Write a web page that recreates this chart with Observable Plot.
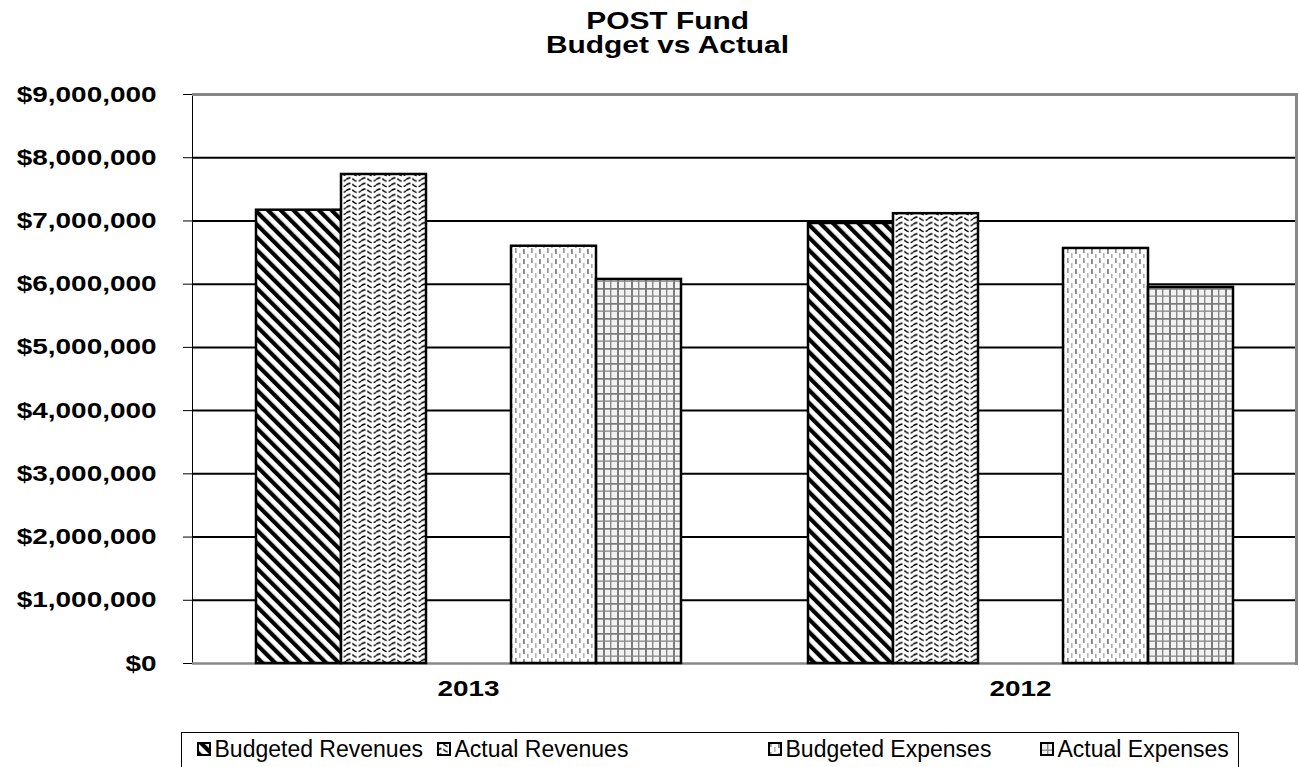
<!DOCTYPE html>
<html>
<head>
<meta charset="utf-8">
<script src="https://cdn.jsdelivr.net/npm/d3@7"></script>
<script src="https://cdn.jsdelivr.net/npm/@observablehq/plot@0.6"></script>
<style>
  body { margin: 0; background: #fff; font-family: "Liberation Sans", Arial, sans-serif; color: #000; }
  #title { position: absolute; left: 418px; top: 9px; width: 500px; text-align: center; z-index: 2;
           font-weight: bold; font-size: 23px; line-height: 24px; }
  #title span { display: inline-block; transform: scaleX(1.3); transform-origin: center; }
  #chart { position: absolute; left: 0; top: 48px; z-index: 1; }
  #legend { position: absolute; left: 181px; top: 732px; width: 1058px; height: 60px;
            border: 1.5px solid #000; box-sizing: border-box; display: flex; align-items: flex-start;
            padding: 2.5px 0 0 14.5px; font-size: 23px; line-height: 26px; }
  .item { display: flex; align-items: center; white-space: nowrap; }
  .item svg { margin-right: 4px; flex: none; }
</style>
</head>
<body>
<!-- hatch fills shared by the bars and the legend swatches -->
<svg width="0" height="0" style="position:absolute">
  <defs>
    <pattern id="pat-br" patternUnits="userSpaceOnUse" width="9" height="9" patternTransform="rotate(-45)">
      <rect width="9" height="9" fill="#fff"/>
      <rect x="0" y="0" width="4.2" height="9" fill="#000"/>
    </pattern>
    <pattern id="pat-ar" patternUnits="userSpaceOnUse" width="15" height="5.6">
      <rect width="15" height="5.6" fill="#fff"/>
      <path d="M0,2.8 C2.5,0.5 5,0.5 7.5,2.8 S12.5,5.1 15,2.8" fill="none" stroke="#000" stroke-width="1.5" stroke-dasharray="5 2"/>
    </pattern>
    <pattern id="pat-be" patternUnits="userSpaceOnUse" width="16" height="10">
      <rect width="16" height="10" fill="#fff"/>
      <rect x="2" y="0" width="1.7" height="5" fill="#999"/>
      <rect x="6" y="5" width="1.6" height="5" fill="#b5b5b5"/>
      <rect x="10" y="1" width="1.9" height="5" fill="#888"/>
      <rect x="14" y="6" width="1.6" height="4" fill="#aaa"/>
    </pattern>
    <pattern id="pat-ae" patternUnits="userSpaceOnUse" width="14" height="15">
      <rect width="14" height="15" fill="#f2f2f2"/>
      <rect x="0" y="0" width="2" height="15" fill="#7a7a7a"/>
      <rect x="7" y="0" width="1.4" height="15" fill="#888"/>
      <rect x="0" y="0" width="14" height="1.7" fill="#7a7a7a"/>
      <rect x="0" y="7.5" width="14" height="1.3" fill="#888"/>
    </pattern>
  </defs>
</svg>

<div id="title"><span>POST Fund</span><br><span>Budget vs Actual</span></div>
<div id="chart"></div>
<div id="legend"></div>

<script>
// Fiscal years, in the order they are shown
const years = ["2013", "2012"];

// Series shown in each year; the empty slot separates revenues from expenses
const series = ["Budgeted Revenues", "Actual Revenues", "Budgeted Expenses", "Actual Expenses"];
const slots = ["Budgeted Revenues", "Actual Revenues", "", "Budgeted Expenses", "Actual Expenses"];

// Dollar amounts per series
const values2013 = [7170000, 7735000, 6600000, 6075000];
const values2012 = [6960000, 7115000, 6565000, 5950000];

// Y axis ticks
const yTicks = [0, 1000000, 2000000, 3000000, 4000000, 5000000, 6000000, 7000000, 8000000, 9000000];

// Hatch fill for each series
const patterns = ["pat-br", "pat-ar", "pat-be", "pat-ae"];

const rows = [];
years.forEach((year, yi) => {
  const vals = yi === 0 ? values2013 : values2012;
  series.forEach((s, si) => rows.push({year, series: s, value: vals[si], fill: `url(#${patterns[si]})`}));
});

const money = d3.format(",");

const chart = Plot.plot({
  width: 1299,
  height: 662,
  marginTop: 46,
  marginBottom: 47,
  marginLeft: 191,
  marginRight: 3,
  style: {fontFamily: "'Liberation Sans', Arial, sans-serif", fontSize: "22px", fontWeight: "bold", color: "#000", background: "transparent", overflow: "visible"},
  fx: {domain: years, padding: 0, label: null, tickSize: 0, tickPadding: 17},
  x: {domain: slots, paddingInner: 0, paddingOuter: 0.742, axis: null},
  y: {domain: [0, 9000000], ticks: yTicks, tickFormat: d => "$" + money(d), tickSize: 9, tickPadding: 27, label: null, line: true},
  color: {type: "identity"},
  marks: [
    Plot.ruleY(yTicks.filter(v => v > 0 && v < 9000000), {stroke: "#000", strokeWidth: 2}),
    Plot.ruleY([0], {stroke: "#888", strokeWidth: 2.5}),
    Plot.ruleY([9000000], {stroke: "#888", strokeWidth: 3}),
    Plot.barY(rows, {fx: "year", x: "series", y: "value", fill: "fill", stroke: "#000", strokeWidth: 2.5}),
    Plot.frame({anchor: "right", facetAnchor: "right", stroke: "#888", strokeWidth: 3})
  ]
});

// The axis lettering is set wide: stretch each label horizontally about its anchor point
d3.select(chart)
  .selectAll('g[aria-label="y-axis tick label"] text, g[aria-label="fx-axis tick label"] text')
  .each(function() {
    const t = this.getAttribute("transform") || "";
    const ax = parseFloat(this.getAttribute("x")) || 0;
    this.setAttribute("transform", `${t} translate(${ax},0) scale(1.27,1) translate(${-ax},0)`);
  });

document.getElementById("chart").appendChild(chart);

// Legend: swatch + label per series, with a gap where the empty slot sits
const legend = d3.select("#legend");
const itemWidths = [240, 331, 272, 190];
series.forEach((s, i) => {
  const item = legend.append("div").attr("class", "item").style("width", itemWidths[i] + "px");
  const sw = item.append("svg").attr("width", 14).attr("height", 14);
  sw.append("rect").attr("x", 1).attr("y", 1).attr("width", 12).attr("height", 12)
    .attr("fill", `url(#${patterns[i]})`).attr("stroke", "#000").attr("stroke-width", 2);
  item.append("span").text(s);
});
</script>
</body>
</html>
